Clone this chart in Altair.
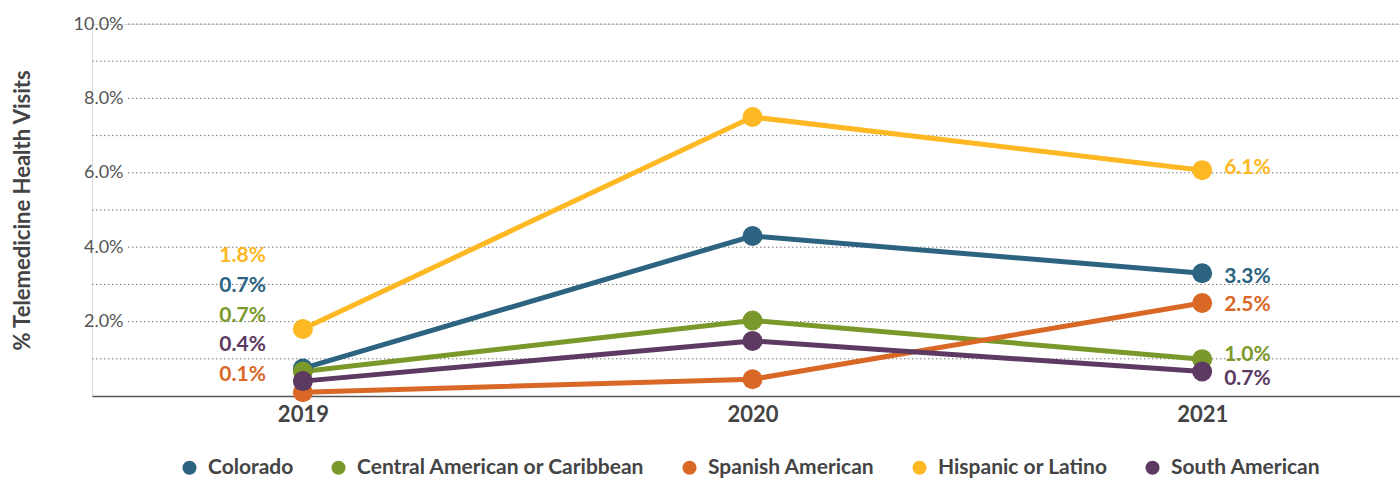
import altair as alt
import pandas as pd

# Share of health visits delivered by telemedicine, by group and year
years = [2019, 2020, 2021]
series = [
    "Colorado",
    "Central American or Caribbean",
    "Spanish American",
    "Hispanic or Latino",
    "South American",
]
colors = ["#2C6380", "#7A992A", "#D96826", "#FDB824", "#5C3A62"]

colorado = [0.74, 4.3, 3.3]
central = [0.66, 2.03, 0.99]
spanish = [0.1, 0.45, 2.5]
hispanic = [1.8, 7.5, 6.07]
south = [0.4, 1.48, 0.66]

# Vertical nudge (in % units) for the end-of-line labels so they don't collide
end_label_shift = [-0.1, 0.11, -0.05, 0.06, -0.2]

grid_values = [1, 2, 3, 4, 5, 6, 7, 8, 9, 10]

values_by_series = [colorado, central, spanish, hispanic, south]
rows = []
for name, vals, shift in zip(series, values_by_series, end_label_shift):
    for yr, v in zip(years, vals):
        rows.append({"group": name, "year": yr, "pct": v, "shift": shift})
df = pd.DataFrame(rows)

FONT = "Lato"
TEXT_DARK = "#444444"

x_scale = alt.Scale(domain=[2018.531, 2021.44], nice=False, zero=False)
y_scale = alt.Scale(domain=[0, 10], nice=False)
color_scale = alt.Scale(domain=series, range=colors)

base = alt.Chart(df)

grid_df = pd.DataFrame({"g": grid_values, "labeled": [g % 2 == 0 for g in grid_values]})

grid_plain = (
    alt.Chart(grid_df)
    .transform_filter("!datum.labeled")
    .mark_rule(color="#777777", strokeWidth=1, strokeDash=[1.5, 2.5])
    .encode(y=alt.Y("g:Q", scale=y_scale), x=alt.value(0), x2=alt.value(1308))
)
grid_labeled = (
    alt.Chart(grid_df)
    .transform_filter("datum.labeled")
    .mark_rule(color="#777777", strokeWidth=1, strokeDash=[1.5, 2.5])
    .encode(y=alt.Y("g:Q", scale=y_scale), x=alt.value(36), x2=alt.value(1308))
)

lines = base.mark_line(strokeWidth=5).encode(
    x=alt.X(
        "year:Q",
        scale=x_scale,
        axis=alt.Axis(
            values=years,
            format="d",
            title=None,
            grid=False,
            ticks=False,
            labelPadding=8,
            labelFont=FONT,
            labelFontSize=22,
            labelFontWeight="bold",
            labelColor=TEXT_DARK,
            domainColor="#555555",
            domainWidth=1.5,
        ),
    ),
    y=alt.Y(
        "pct:Q",
        scale=y_scale,
        axis=alt.Axis(
            values=[2, 4, 6, 8, 10],
            labelExpr="format(datum.value, '.1f') + '%'",
            title="% Telemedicine Health Visits",
            titleFont=FONT,
            titleFontSize=22,
            titleFontWeight="bold",
            titleColor=TEXT_DARK,
            titleX=-70,
            titleY=186,
            titleAngle=-90,
            titleAlign="center",
            titleBaseline="middle",
            grid=False,
            ticks=False,
            domain=False,
            labelPadding=-31,
            labelFont=FONT,
            labelFontSize=18,
            labelColor="#555555",
        ),
    ),
    color=alt.Color(
        "group:N",
        scale=color_scale,
        sort=series,
        legend=alt.Legend(
            title=None,
            orient="none",
            direction="horizontal",
            legendX=87,
            legendY=433,
            symbolType="circle",
            symbolSize=200,
            symbolStrokeWidth=0,
            labelFont=FONT,
            labelFontSize=21,
            labelFontWeight="bold",
            labelColor=TEXT_DARK,
            labelOffset=8,
            columnPadding=34,
            labelLimit=400,
        ),
    ),
    detail="group:N",
)

points = base.mark_point(filled=True, size=400, opacity=1).encode(
    x=alt.X("year:Q", scale=x_scale),
    y=alt.Y("pct:Q", scale=y_scale),
    color=alt.Color("group:N", scale=color_scale, legend=None),
)

# Start-year labels stacked in a column ordered by value
start_labels = (
    base.transform_filter("datum.year == 2019")
    .transform_window(rank="row_number()", sort=[alt.SortField("pct", order="ascending")])
    .transform_calculate(
        label_pos="0.56 + (datum.rank - 1) * 0.8",
        label="format(datum.pct, '.1f') + '%'",
    )
    .mark_text(align="right", baseline="middle", dx=-37, font=FONT, fontSize=21, fontWeight="bold")
    .encode(
        x=alt.X("year:Q", scale=x_scale),
        y=alt.Y("label_pos:Q", scale=y_scale),
        text="label:N",
        color=alt.Color("group:N", scale=color_scale, legend=None),
    )
)

end_labels = (
    base.transform_filter("datum.year == 2021")
    .transform_calculate(
        label_pos="datum.pct + datum.shift",
        label="format(datum.pct, '.1f') + '%'",
    )
    .mark_text(align="left", baseline="middle", dx=22, font=FONT, fontSize=21, fontWeight="bold")
    .encode(
        x=alt.X("year:Q", scale=x_scale),
        y=alt.Y("label_pos:Q", scale=y_scale),
        text="label:N",
        color=alt.Color("group:N", scale=color_scale, legend=None),
    )
)

chart = (
    alt.layer(grid_plain, grid_labeled, lines, points, start_labels, end_labels)
    .properties(
        width=1308,
        height=372,
        autosize=alt.AutoSizeParams(type="none"),
        padding={"left": 92, "top": 24, "right": 0, "bottom": 84},
    )
    .configure_view(stroke=None)
    .configure(background="white")
)

chart.save("out.html", embed_options={"renderer": "svg", "actions": False})
